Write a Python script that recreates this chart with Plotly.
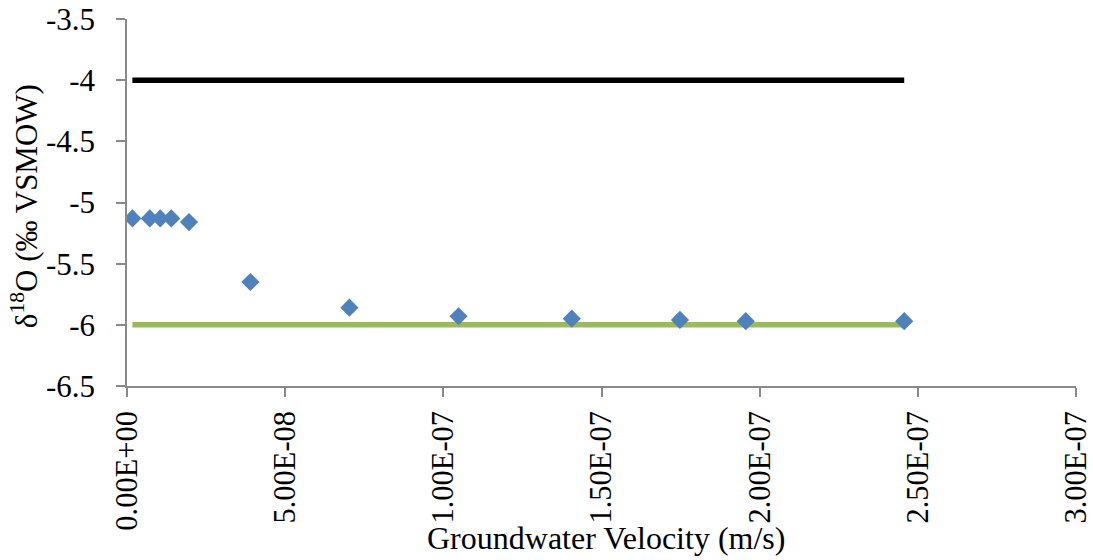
import plotly.graph_objects as go

velocity = [1.7e-9, 7.2e-9, 1.05e-8, 1.4e-8, 1.96e-8, 3.9e-8, 7.03e-8,
            1.048e-7, 1.406e-7, 1.748e-7, 1.956e-7, 2.457e-7]
d18o = [-5.13, -5.13, -5.13, -5.13, -5.16, -5.65, -5.86,
        -5.93, -5.95, -5.96, -5.97, -5.97]

line_x = [1.7e-9, 2.457e-7]
upper_line = [-4.0, -4.0]
lower_line = [-6.0, -6.0]

x_ticks = [0, 5e-8, 1e-7, 1.5e-7, 2e-7, 2.5e-7, 3e-7]
x_tick_labels = ["0.00E+00", "5.00E-08", "1.00E-07", "1.50E-07", "2.00E-07", "2.50E-07", "3.00E-07"]
y_ticks = [-6.5, -6, -5.5, -5, -4.5, -4, -3.5]
y_tick_labels = ["-6.5", "-6", "-5.5", "-5", "-4.5", "-4", "-3.5"]

FONT = "Liberation Serif"
FS = 31

fig = go.Figure()
fig.add_trace(go.Scatter(x=line_x, y=upper_line, mode="lines",
                         line=dict(color="#000000", width=5.5), showlegend=False))
fig.add_trace(go.Scatter(x=line_x, y=lower_line, mode="lines",
                         line=dict(color="#9BBB59", width=5.5), showlegend=False))
fig.add_trace(go.Scatter(x=velocity, y=d18o, mode="markers",
                         marker=dict(symbol="diamond", size=14, color="#4F81BD",
                                     line=dict(width=0)), showlegend=False))

axis_common = dict(showgrid=False, zeroline=False, showline=True,
                   linecolor="#898989", linewidth=1.5, ticks="outside",
                   ticklen=9, tickcolor="#898989", tickwidth=1.5, automargin=False,
                   ticklabeloverflow="allow")

fig.update_xaxes(range=[0, 3e-7], tickvals=x_ticks, ticktext=x_tick_labels,
                 tickangle=-90, ticklabelstandoff=2,
                 tickfont=dict(family=FONT, size=30.5, color="#000000"), **axis_common)
fig.update_yaxes(range=[-6.5, -3.5], tickvals=y_ticks, ticktext=y_tick_labels,
                 ticklabelstandoff=15,
                 tickfont=dict(family=FONT, size=FS, color="#000000"), **axis_common)

fig.add_annotation(text="δ<sup>18</sup>O (‰ VSMOW)", xref="paper", yref="paper",
                   x=-0.1085, y=0.49, xanchor="center", yanchor="middle",
                   textangle=-90, showarrow=False,
                   font=dict(family=FONT, size=FS, color="#000000"))
fig.add_annotation(text="Groundwater Velocity (m/s)", xref="paper", yref="paper",
                   x=0.505, y=-0.414, xanchor="center", yanchor="middle",
                   showarrow=False,
                   font=dict(family=FONT, size=32, color="#000000"))

fig.update_layout(width=1093, height=560, plot_bgcolor="white", paper_bgcolor="white",
                  font=dict(family=FONT),
                  margin=dict(l=127, r=17, t=19, b=174, autoexpand=False))

fig.write_html("out.html")
